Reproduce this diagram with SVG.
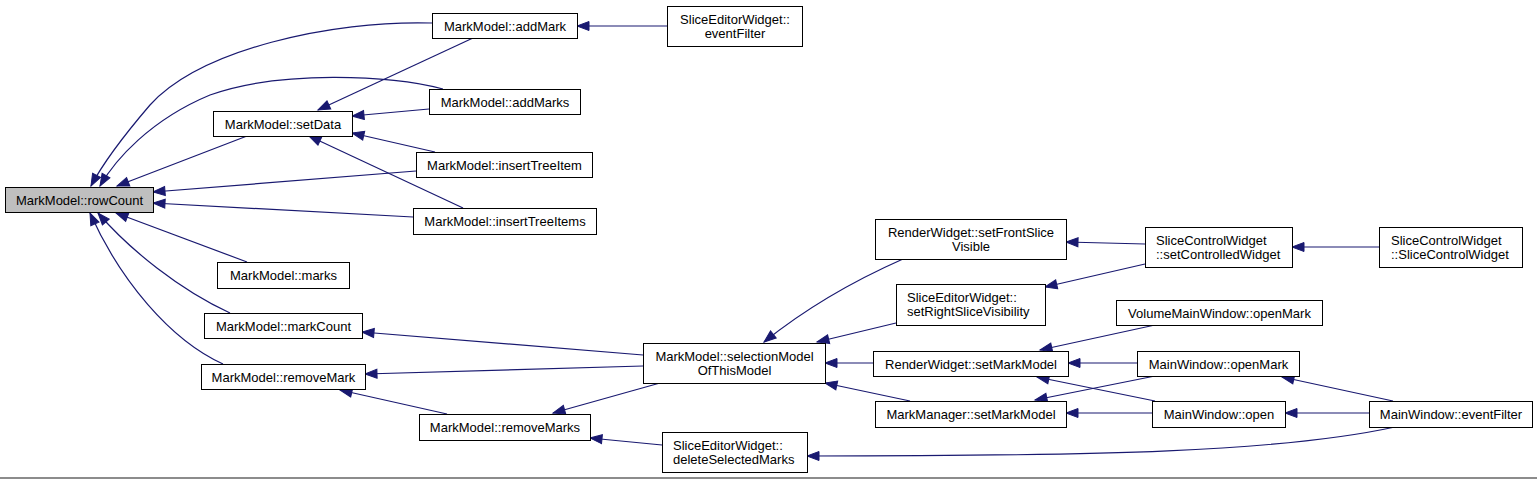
<svg xmlns="http://www.w3.org/2000/svg" width="1537" height="479" viewBox="0 0 1537 479">
<style>
.n rect{fill:#fff;stroke:#000;stroke-width:1}
.n text{font-family:"Liberation Sans",Arial,sans-serif;font-size:13px;fill:#000}
.c{text-anchor:middle}
.e path{fill:none;stroke:#191970;stroke-width:1.2;marker-end:url(#ah)}
</style>
<defs>
<marker id="ah" markerWidth="14" markerHeight="11" refX="12" refY="4.5" orient="auto" markerUnits="userSpaceOnUse" overflow="visible">
<path d="M0,0 L12,4.5 L0,9 z" fill="#191970" stroke="#191970" stroke-width="1"/>
</marker>
</defs>
<rect width="1537" height="479" fill="#fff"/>
<g class="e" id="edges">
<path d="M432,23 C330,20 200,50 150,105 C120,140 102,165 91,186"/>
<path d="M443,89 C390,75 280,70 210,95 C150,120 115,160 100,186"/>
<path d="M247,136 L117,186"/>
<path d="M473,38 L318,110"/>
<path d="M429,109 L352,116"/>
<path d="M435,152 L352,133"/>
<path d="M463,208 L309,136"/>
<path d="M416,171 L153,192"/>
<path d="M413,217 L153,203"/>
<path d="M247,262 L116,213"/>
<path d="M230,313 C180,290 130,250 98,213"/>
<path d="M223,364 C170,340 120,280 90,213"/>
<path d="M643,355 L362,332"/>
<path d="M643,366 L365,374"/>
<path d="M660,383 L553,413"/>
<path d="M447,414 L340,390"/>
<path d="M662,445 L590,438"/>
<path d="M903,259 C860,278 810,305 764,342"/>
<path d="M896,323 L817,342"/>
<path d="M873,363 L825,363"/>
<path d="M910,401 L825,383"/>
<path d="M1145,244 L1066,242"/>
<path d="M1145,264 L1045,287"/>
<path d="M1379,247 L1292,247"/>
<path d="M1155,325 L1040,350"/>
<path d="M1137,363 L1068,363"/>
<path d="M1155,376 L1035,400"/>
<path d="M1155,401 L1037,377"/>
<path d="M1152,413 L1066,413"/>
<path d="M1393,401 L1282,377"/>
<path d="M1369,413 L1285,413"/>
<path d="M1395,427 C1280,452 1100,456 807,456"/>
<path d="M667,26 L577,26"/>
</g>
<g class="n" id="rowCount"><rect x="5.5" y="187.5" width="148" height="25" style="fill:#bfbfbf"/><text class="c" x="79.5" y="204.5">MarkModel::rowCount</text></g>
<g class="n" id="addMark"><rect x="432.5" y="13.5" width="145" height="25"/><text class="c" x="505" y="30.5">MarkModel::addMark</text></g>
<g class="n" id="sewEventFilter"><rect x="667.5" y="6.5" width="135" height="40"/><text class="c" x="735" y="23.5">SliceEditorWidget::</text><text class="c" x="735" y="38">eventFilter</text></g>
<g class="n" id="setData"><rect x="213.5" y="111.5" width="139" height="25"/><text class="c" x="283" y="128.5">MarkModel::setData</text></g>
<g class="n" id="addMarks"><rect x="429.5" y="89.5" width="151" height="25"/><text class="c" x="505" y="106.5">MarkModel::addMarks</text></g>
<g class="n" id="insertTreeItem"><rect x="416.5" y="152.5" width="176" height="25"/><text class="c" x="504.5" y="169.5">MarkModel::insertTreeItem</text></g>
<g class="n" id="insertTreeItems"><rect x="413.5" y="208.5" width="183" height="26"/><text class="c" x="505" y="226">MarkModel::insertTreeItems</text></g>
<g class="n" id="marks"><rect x="217.5" y="262.5" width="132" height="26"/><text class="c" x="283.5" y="280">MarkModel::marks</text></g>
<g class="n" id="markCount"><rect x="204.5" y="313.5" width="158" height="25"/><text class="c" x="283.5" y="330.5">MarkModel::markCount</text></g>
<g class="n" id="removeMark"><rect x="201.5" y="364.5" width="164" height="25"/><text class="c" x="283.5" y="381.5">MarkModel::removeMark</text></g>
<g class="n" id="removeMarks"><rect x="419.5" y="414.5" width="171" height="26"/><text class="c" x="505" y="432">MarkModel::removeMarks</text></g>
<g class="n" id="selectionModel"><rect x="643.5" y="343.5" width="182" height="40"/><text class="c" x="734.5" y="360.5">MarkModel::selectionModel</text><text class="c" x="734.5" y="375">OfThisModel</text></g>
<g class="n" id="deleteSelectedMarks"><rect x="662.5" y="432.5" width="145" height="40"/><text x="673" y="449.5">SliceEditorWidget::</text><text x="673" y="464">deleteSelectedMarks</text></g>
<g class="n" id="setFrontSliceVisible"><rect x="875.5" y="219.5" width="191" height="40"/><text class="c" x="971" y="236.5">RenderWidget::setFrontSlice</text><text class="c" x="971" y="251">Visible</text></g>
<g class="n" id="setRightSliceVisibility"><rect x="896.5" y="284.5" width="149" height="41"/><text x="907" y="301.5">SliceEditorWidget::</text><text x="907" y="316">setRightSliceVisibility</text></g>
<g class="n" id="rwSetMarkModel"><rect x="873.5" y="351.5" width="195" height="25"/><text class="c" x="971" y="368.5">RenderWidget::setMarkModel</text></g>
<g class="n" id="mmSetMarkModel"><rect x="875.5" y="401.5" width="191" height="26"/><text class="c" x="971" y="419">MarkManager::setMarkModel</text></g>
<g class="n" id="setControlledWidget"><rect x="1145.5" y="227.5" width="147" height="40"/><text x="1156" y="244.5">SliceControlWidget</text><text x="1156" y="259">::setControlledWidget</text></g>
<g class="n" id="sliceControlWidget"><rect x="1379.5" y="227.5" width="143" height="40"/><text x="1391" y="244.5">SliceControlWidget</text><text x="1391" y="259">::SliceControlWidget</text></g>
<g class="n" id="vmwOpenMark"><rect x="1116.5" y="300.5" width="206" height="25"/><text class="c" x="1219.5" y="317.5">VolumeMainWindow::openMark</text></g>
<g class="n" id="mwOpenMark"><rect x="1137.5" y="351.5" width="162" height="25"/><text class="c" x="1218.5" y="368.5">MainWindow::openMark</text></g>
<g class="n" id="mwOpen"><rect x="1152.5" y="401.5" width="133" height="26"/><text class="c" x="1219" y="419">MainWindow::open</text></g>
<g class="n" id="mwEventFilter"><rect x="1369.5" y="401.5" width="163" height="26"/><text class="c" x="1451" y="419">MainWindow::eventFilter</text></g>
<rect x="0" y="477" width="1537" height="2" fill="#8c8c8c"/>
</svg>
